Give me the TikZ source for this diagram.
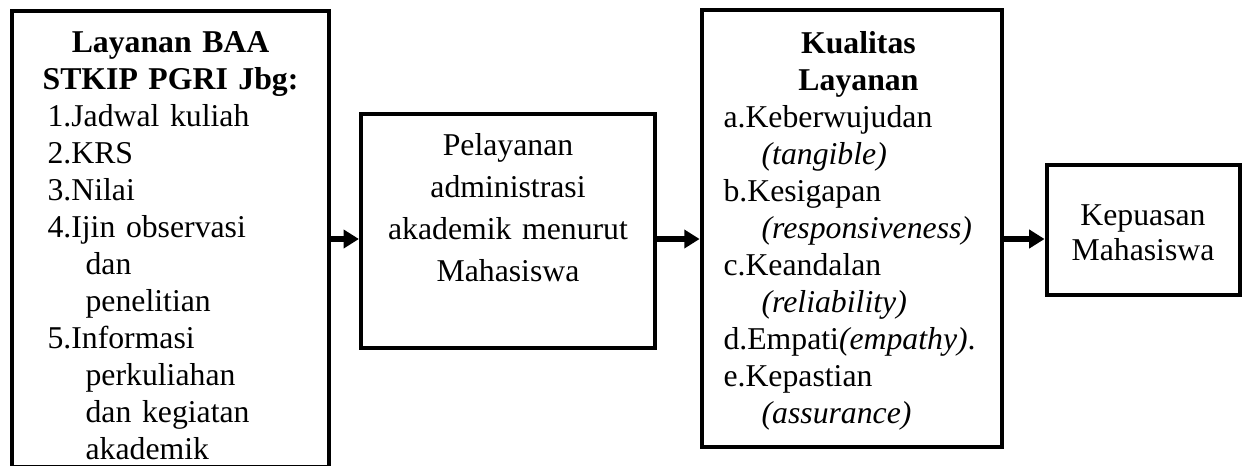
\documentclass[tikz,border=0pt]{standalone}
\usepackage{fontspec}
\setmainfont{Liberation Serif}
\usetikzlibrary{arrows.meta}

\begin{document}
\begin{tikzpicture}
[x=0.378pt,y=-0.378pt]
\tikzstyle{box node}=[draw,line width=1.8pt,inner sep=0]
\tikzstyle{list text}=[inner sep=0,align=left,font=\fontsize{12}{14}\selectfont]
\tikzstyle{flow arrow}=[line width=2.2pt,-{Triangle[length=5.8pt,width=6.8pt]}]

\useasboundingbox (0,0) rectangle (1243,465);

\node(box1)[box node,minimum width=119.8pt,minimum height=172.4pt] at (170.5,239){};
\node(box2)[box node,line width=1.6pt,minimum width=111.1pt,minimum height=88.5pt] at (508,231){};
\node(box3)[box node,minimum width=113.4pt,minimum height=165.2pt] at (852,228.5){};
\node(box4)[box node,minimum width=73pt,minimum height=49.1pt] at (1143.5,230){};

\node(baa)[list text,anchor=base west,text width=93pt] at (47,52)
  {{\centering\bfseries Layanan BAA\\ \makebox[\linewidth]{STKIP PGRI Jbg:}\par}
   1.Jadwal kuliah\\ 2.KRS\\ 3.Nilai\\ 4.Ijin observasi\\
   \hspace*{14.4pt}dan\\ \hspace*{14.4pt}penelitian\\ 5.Informasi\\
   \hspace*{14.4pt}perkuliahan\\ \hspace*{14.4pt}dan kegiatan\\
   \hspace*{14.4pt}akademik};
\node(pelayanan)[inner sep=0,anchor=base,text width=105pt,align=center,
  font=\fontsize{12}{15.9}\selectfont] at (508,155)
  {Pelayanan\\ administrasi\\ akademik menurut\\ Mahasiswa};
\node(kualitas)[list text,anchor=base west,text width=102pt] at (723,53)
  {{\centering\bfseries Kualitas\\ Layanan\par}
   a.Keberwujudan\\ \hspace*{14.4pt}\textit{(tangible)}\\
   b.Kesigapan\\ \hspace*{14.4pt}\textit{(responsiveness)}\\
   c.Keandalan\\ \hspace*{14.4pt}\textit{(reliability)}\\
   d.Empati\textit{(empathy)}.\\ e.Kepastian\\
   \hspace*{14.4pt}\textit{(assurance)}};
\node(kepuasan)[inner sep=0,anchor=base,text width=70pt,align=center,
  font=\fontsize{12}{13.3}\selectfont] at (1143,225)
  {Kepuasan\\ Mahasiswa};

\draw[flow arrow](box1.east)--(box1.east -| box2.west);
\draw[flow arrow](box1.east -| box2.east)--(box1.east -| box3.west);
\draw[flow arrow](box1.east -| box3.east)--(box1.east -| box4.west);
\end{tikzpicture}
\end{document}
